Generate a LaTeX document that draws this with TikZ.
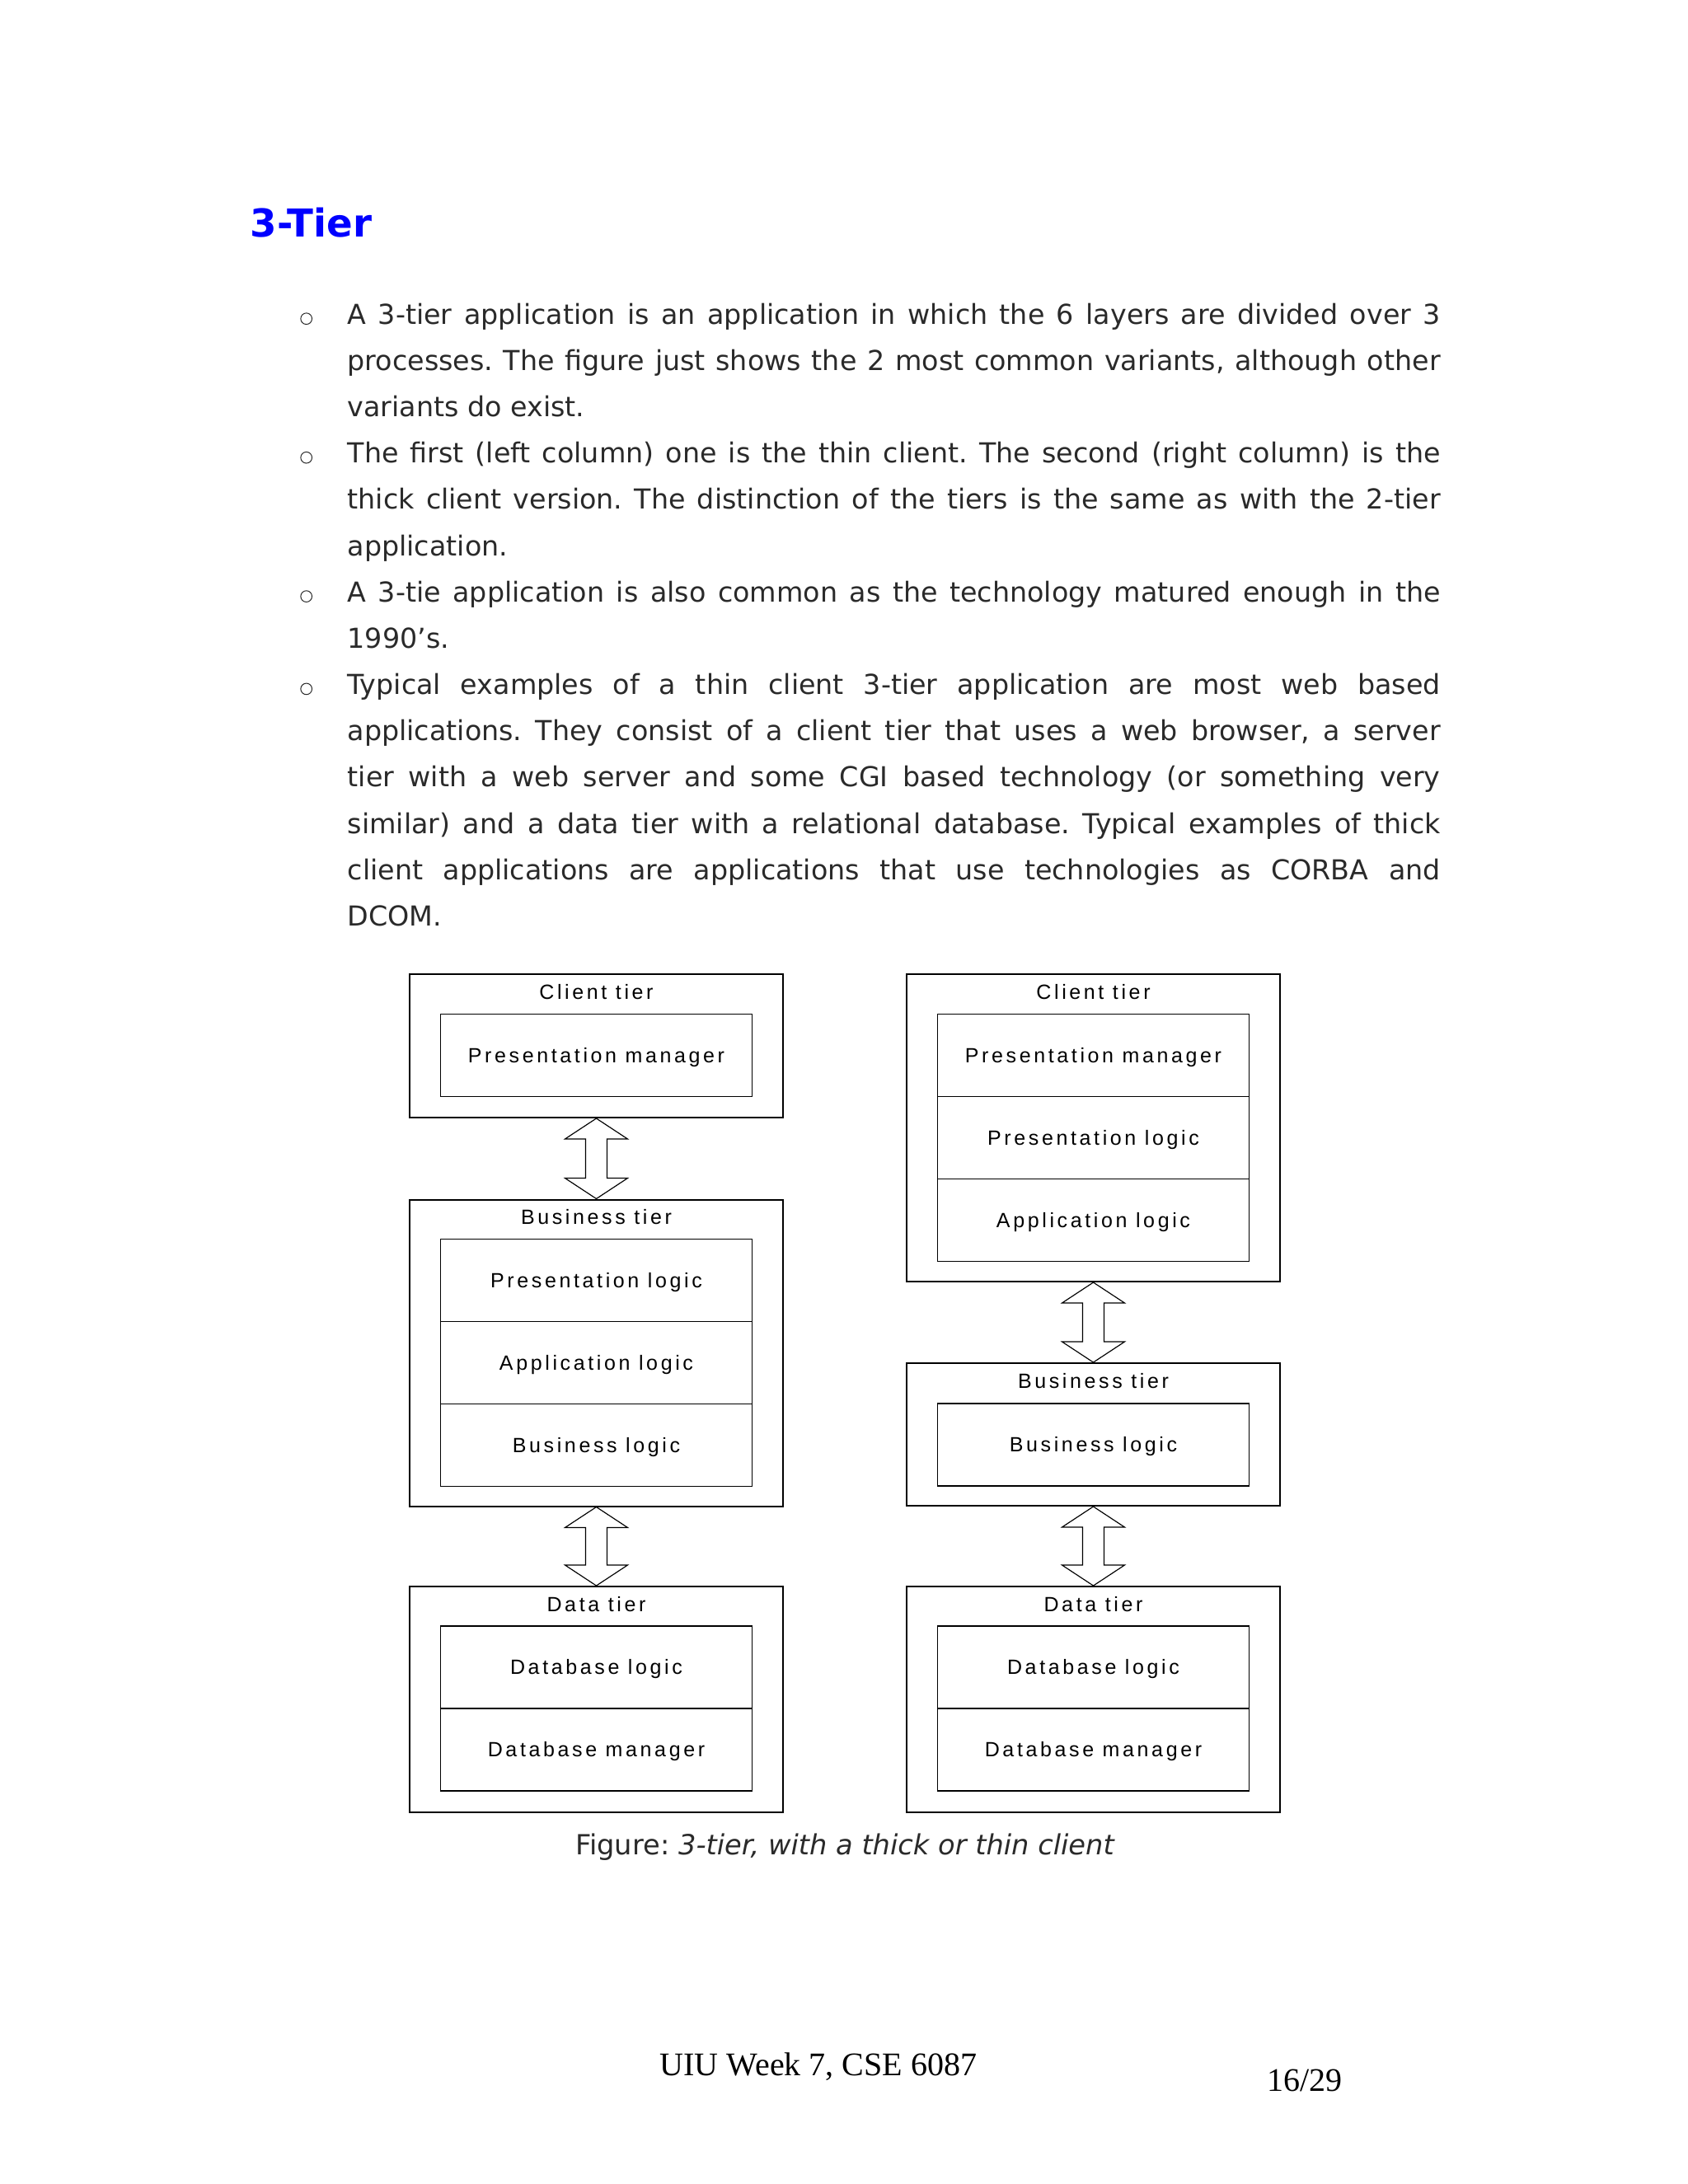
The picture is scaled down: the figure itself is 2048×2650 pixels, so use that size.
\documentclass[tikz,border=0pt]{standalone}
\usepackage{fontspec}
\setmainfont{DejaVu Sans}
\newfontfamily\tierfont[LetterSpace=14.5]{Liberation Sans}
\newfontfamily\footfont{Liberation Serif}
\usetikzlibrary{calc}

\setlength{\parindent}{0pt}
\frenchspacing
\hyphenpenalty=10000
\tolerance=9999

\definecolor{titleblue}{RGB}{0,0,255}
\definecolor{bodygray}{RGB}{42,42,42}

\tikzset{
  tier/.style={draw, line width=0.6pt, minimum width=135.9pt, anchor=north, inner sep=0pt},
  layer/.style={draw, line width=0.55pt, minimum width=113.4pt, minimum height=30pt,
    anchor=north, inner sep=0pt, outer sep=0pt, text height=5.3pt, text depth=0pt,
    font=\tierfont\fontsize{7.5}{9}\selectfont},
  tiername/.style={anchor=base, inner sep=0pt, font=\tierfont\fontsize{7.5}{9}\selectfont},
  tierarrow/.style={draw, line width=0.35pt, fill=white},
  para/.style={anchor=base west, inner sep=0pt, text width=397.8pt, align=justify,
    text=bodygray, font=\fontsize{10}{16.85}\selectfont},
  bulletmark/.style={circle, draw=bodygray, line width=0.3pt, minimum size=4.1pt, inner sep=0pt}
}

% hollow double arrow between two tiers
\newcommand{\tierlink}[2]{%
  \draw[tierarrow] let \p1=(#1.south), \p2=(#2.north) in
    (\p1) -- (\x1+11.4pt,\y1-7.5pt) -- (\x1+3.9pt,\y1-7.5pt) -- (\x1+3.9pt,\y2+7.5pt)
    -- (\x1+11.4pt,\y2+7.5pt) -- (\p2) -- (\x1-11.4pt,\y2+7.5pt) -- (\x1-3.9pt,\y2+7.5pt)
    -- (\x1-3.9pt,\y1-7.5pt) -- (\x1-11.4pt,\y1-7.5pt) -- cycle;}

\begin{document}
\begin{tikzpicture}[x=0.3pt,y=-0.3pt]
  \useasboundingbox[fill=white] (0,0) rectangle (2048,2650);

  % heading and text
  \node[anchor=base west, inner sep=0pt, text=titleblue, font=\bfseries\fontsize{14}{17}\selectfont]
    (title) at (303,287.3) {3-Tier};

  \node[bulletmark] (b1) at (371.7,386.7) {};
  \node[para] (p1) at (421,393.3) {A 3-tier application is an application in which the 6 layers are divided over 3 \linebreak
    processes. The figure just shows the 2 most common variants, although other \linebreak
    variants do exist.};
  \node[bulletmark] (b2) at (371.7,555.2) {};
  \node[para] (p2) at (421,561.8) {The first (left column) one is the thin client. The second (right column) is the \linebreak
    thick client version. The distinction of the tiers is the same as with the 2-tier \linebreak
    application.};
  \node[bulletmark] (b3) at (371.7,723.6) {};
  \node[para] (p3) at (421,730.2) {A 3-tie application is also common as the technology matured enough in the \linebreak
    1990's.};
  \node[bulletmark] (b4) at (371.7,835.9) {};
  \node[para] (p4) at (421,842.5) {Typical examples of a thin client 3-tier application are most web based \linebreak
    applications. They consist of a client tier that uses a web browser, a server \linebreak
    tier with a web server and some CGI based technology (or something very \linebreak
    similar) and a data tier with a relational database. Typical examples of thick \linebreak
    client applications are applications that use technologies as CORBA and \linebreak
    DCOM.};

  % left column: thin client
  \node[tier, minimum height=52.2pt] (cl) at (723.5,1181) {};
  \node[tiername] (clname) at (723.5,1212.5) {Client tier};
  \node[layer] (cl1) at (723.5,1230.5) {Presentation manager};

  \node[tier, minimum height=111.6pt] (bl) at (723.5,1454.5) {};
  \node[tiername] (blname) at (723.5,1485) {Business tier};
  \node[layer] (bl1) at (723.5,1503.5) {Presentation logic};
  \node[layer] (bl2) at (bl1.south) {Application logic};
  \node[layer] (bl3) at (bl2.south) {Business logic};

  \node[tier, minimum height=82.2pt] (dl) at (723.5,1924) {};
  \node[tiername] (dlname) at (723.5,1955) {Data tier};
  \node[layer] (dl1) at (723.5,1973) {Database logic};
  \node[layer] (dl2) at (dl1.south) {Database manager};

  % right column: thick client
  \node[tier, minimum height=111.9pt] (cr) at (1326.5,1181) {};
  \node[tiername] (crname) at (1326.5,1212.5) {Client tier};
  \node[layer] (cr1) at (1326.5,1230.5) {Presentation manager};
  \node[layer] (cr2) at (cr1.south) {Presentation logic};
  \node[layer] (cr3) at (cr2.south) {Application logic};

  \node[tier, minimum height=51.9pt] (br) at (1326.5,1653) {};
  \node[tiername] (brname) at (1326.5,1684) {Business tier};
  \node[layer] (br1) at (1326.5,1703) {Business logic};

  \node[tier, minimum height=82.2pt] (dr) at (1326.5,1924) {};
  \node[tiername] (drname) at (1326.5,1955) {Data tier};
  \node[layer] (dr1) at (1326.5,1973) {Database logic};
  \node[layer] (dr2) at (dr1.south) {Database manager};

  \tierlink{cl}{bl}
  \tierlink{bl}{dl}
  \tierlink{cr}{br}
  \tierlink{br}{dr}

  % caption and footer
  \node[anchor=base, inner sep=0pt, text=bodygray, font=\fontsize{10.1}{12}\selectfont]
    (caption) at (1025.5,2250) {Figure: \textit{3-tier, with a thick or thin client}};
  \node[anchor=base west, inner sep=0pt, font=\footfont\fontsize{12}{14}\selectfont]
    (footer) at (800,2518) {UIU Week 7, CSE 6087};
  \node[anchor=base west, inner sep=0pt, font=\footfont\fontsize{12}{14}\selectfont]
    (pageno) at (1537,2537) {16/29};
\end{tikzpicture}
\end{document}
